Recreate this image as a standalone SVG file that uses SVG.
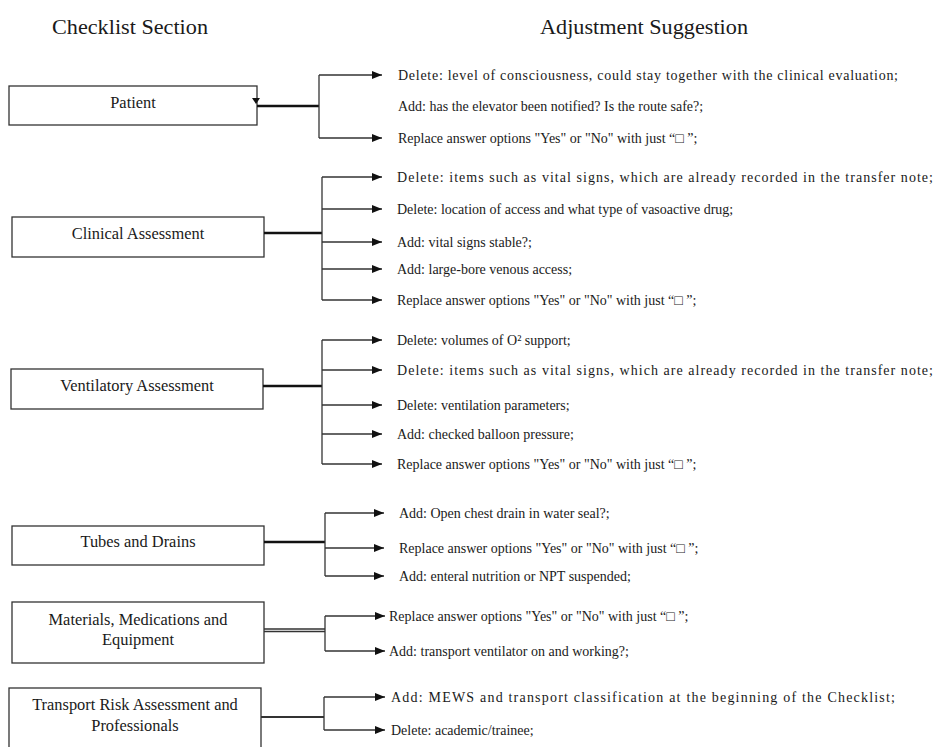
<svg xmlns="http://www.w3.org/2000/svg" width="940" height="747" viewBox="0 0 940 747">
<defs>
<marker id="ah" viewBox="0 0 10 8" refX="10" refY="4" markerWidth="10" markerHeight="8" markerUnits="userSpaceOnUse" orient="auto">
<path d="M0,0 L10,4 L0,8 Z" fill="#111"/>
</marker>
<style>
.hdr{font-family:"Liberation Serif","Times New Roman",serif;font-size:21px;fill:#1a1a1a}
.box{fill:#fff;stroke:#333;stroke-width:1.3}
.bt{font-family:"Liberation Serif","Times New Roman",serif;font-size:16.4px;fill:#1a1a1a;text-anchor:middle}
.tx{font-family:"Liberation Serif","Times New Roman",serif;font-size:14px;fill:#1a1a1a}
.ln{fill:none;stroke:#333;stroke-width:1.3}
.thick{fill:none;stroke:#111;stroke-width:2.6}
.arr{fill:none;stroke:#333;stroke-width:1.3;marker-end:url(#ah)}
</style>
</defs>
<rect width="940" height="747" fill="#fff"/>
<text class="hdr" x="52" y="34" textLength="156" lengthAdjust="spacingAndGlyphs">Checklist Section</text>
<text class="hdr" x="540" y="34" textLength="208" lengthAdjust="spacingAndGlyphs">Adjustment Suggestion</text>

<g id="patient"><rect class="box" x="9" y="86" width="248" height="39"/><text class="bt" x="133" y="107.5">Patient</text></g>
<g id="clinical"><rect class="box" x="12" y="217" width="252" height="40"/><text class="bt" x="138" y="238.5">Clinical Assessment</text></g>
<g id="ventilatory"><rect class="box" x="11" y="369" width="252" height="40"/><text class="bt" x="137" y="390.5">Ventilatory Assessment</text></g>
<g id="tubes"><rect class="box" x="12" y="526" width="252" height="39"/><text class="bt" x="138" y="546.5">Tubes and Drains</text></g>
<g id="materials"><rect class="box" x="12" y="602" width="252" height="61"/><text class="bt" x="138" y="624.5">Materials, Medications and</text><text class="bt" x="138" y="644.5">Equipment</text></g>
<g id="transport"><rect class="box" x="9" y="688" width="252" height="80"/><text class="bt" x="135" y="709.5">Transport Risk Assessment and</text><text class="bt" x="135" y="730.5">Professionals</text></g>

<g id="connectors">
<path class="thick" d="M257,106 H319"/>
<path d="M252,98 L260,98 L256,104 Z" fill="#111"/>
<path class="ln" d="M319,75 V138"/>
<path class="arr" d="M319,75 H382"/>
<path class="arr" d="M319,138 H382"/>

<path class="thick" d="M264,233 H322"/>
<path class="ln" d="M322,177 V300"/>
<path class="arr" d="M322,177 H382"/>
<path class="arr" d="M322,209 H382"/>
<path class="arr" d="M322,242 H382"/>
<path class="arr" d="M322,269 H382"/>
<path class="arr" d="M322,300 H382"/>

<path class="thick" d="M263,386 H322"/>
<path class="ln" d="M322,340 V464"/>
<path class="arr" d="M322,340 H382"/>
<path class="arr" d="M322,370 H382"/>
<path class="arr" d="M322,405 H382"/>
<path class="arr" d="M322,434 H382"/>
<path class="arr" d="M322,464 H382"/>

<path class="thick" d="M264,542 H325"/>
<path class="ln" d="M325,513 V576"/>
<path class="arr" d="M325,513 H384"/>
<path class="arr" d="M325,548 H384"/>
<path class="arr" d="M325,576 H384"/>

<path class="ln" d="M264,629 H325 M264,631.5 H325"/>
<path class="ln" d="M325,616 V651"/>
<path class="arr" d="M325,616 H385"/>
<path class="arr" d="M325,651 H385"/>

<path class="ln" d="M261,717 H324" style="stroke-width:1.8"/>
<path class="ln" d="M324,697 V730"/>
<path class="arr" d="M324,697 H385"/>
<path class="arr" d="M324,730 H385"/>
</g>

<g id="suggestions">
<text class="tx" x="398" y="79.5" textLength="500" lengthAdjust="spacing">Delete: level of consciousness, could stay together with the clinical evaluation;</text>
<text class="tx" x="398" y="110.5">Add: has the elevator been notified? Is the route safe?;</text>
<text class="tx" x="398" y="142.5">Replace answer options "Yes" or "No" with just “□ ”;</text>

<text class="tx" x="397" y="181.5" textLength="536" lengthAdjust="spacing">Delete: items such as vital signs, which are already recorded in the transfer note;</text>
<text class="tx" x="397" y="213.5">Delete: location of access and what type of vasoactive drug;</text>
<text class="tx" x="397" y="246.5">Add: vital signs stable?;</text>
<text class="tx" x="397" y="273.5">Add: large-bore venous access;</text>
<text class="tx" x="397" y="304.5">Replace answer options "Yes" or "No" with just “□ ”;</text>

<text class="tx" x="397" y="344.5">Delete: volumes of O² support;</text>
<text class="tx" x="397" y="374.5" textLength="536" lengthAdjust="spacing">Delete: items such as vital signs, which are already recorded in the transfer note;</text>
<text class="tx" x="397" y="409.5">Delete: ventilation parameters;</text>
<text class="tx" x="397" y="438.5">Add: checked balloon pressure;</text>
<text class="tx" x="397" y="468.5">Replace answer options "Yes" or "No" with just “□ ”;</text>

<text class="tx" x="399" y="517.5">Add: Open chest drain in water seal?;</text>
<text class="tx" x="399" y="552.5">Replace answer options "Yes" or "No" with just “□ ”;</text>
<text class="tx" x="399" y="580.5">Add: enteral nutrition or NPT suspended;</text>

<text class="tx" x="389" y="620.5">Replace answer options "Yes" or "No" with just “□ ”;</text>
<text class="tx" x="389" y="655.5">Add: transport ventilator on and working?;</text>

<text class="tx" x="391" y="701.5" textLength="504" lengthAdjust="spacing">Add: MEWS and transport classification at the beginning of the Checklist;</text>
<text class="tx" x="391" y="734.5">Delete: academic/trainee;</text>
</g>
</svg>
